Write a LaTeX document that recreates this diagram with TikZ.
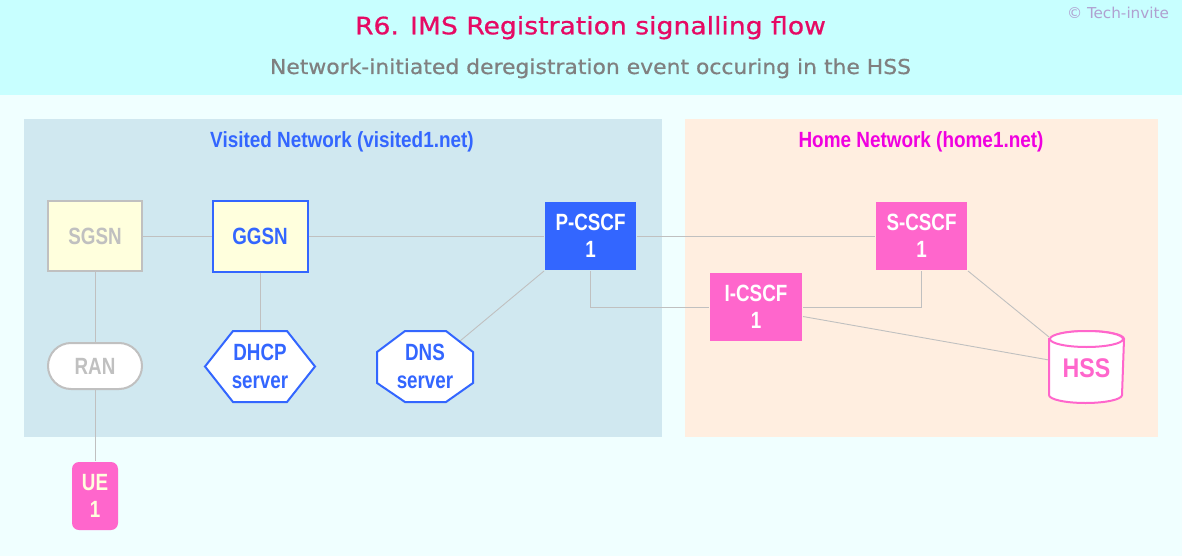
\documentclass[tikz,border=0pt]{standalone}
\usepackage{fontspec}
\usepackage{graphicx}
\setmainfont{Liberation Sans}[FakeStretch=0.8]
\newfontfamily\lblfont{Liberation Sans}[FakeStretch=0.86]
\newfontfamily\ttlfont{DejaVu Sans Condensed}[FakeBold=0.6]
\newfontfamily\cpyfont{DejaVu Sans Condensed}
\usetikzlibrary{calc}
\definecolor{bandc}{HTML}{C8FFFF}
\definecolor{pagec}{HTML}{F0FFFF}
\definecolor{visc}{HTML}{D0E8F0}
\definecolor{homec}{HTML}{FFEEE0}
\definecolor{titlec}{HTML}{E60A64}
\definecolor{subc}{HTML}{808080}
\definecolor{copyc}{HTML}{B0A0D0}
\definecolor{blueA}{HTML}{3366FF}
\definecolor{pinkA}{HTML}{FF66CC}
\definecolor{grayA}{HTML}{C0C0C0}
\definecolor{yelA}{HTML}{FFFFDD}
\definecolor{homet}{HTML}{F000E0}
\definecolor{creamA}{HTML}{FFFFDD}
\newcommand\ndfont{\fontsize{23.5}{27.5}\selectfont\bfseries}
\tikzset{
  box/.style={rectangle, inner sep=0pt, align=center, font=\ndfont, line width=2pt},
  graybox/.style={box, draw=grayA, fill=yelA, text=grayA, minimum width=94pt, minimum height=70pt},
  bluebox/.style={box, draw=blueA, fill=yelA, text=blueA, minimum width=95pt, minimum height=71pt},
  pcscfbox/.style={box, fill=blueA, text=white, minimum width=91pt, minimum height=68pt},
  pinkbox/.style={box, fill=pinkA, text=white, minimum width=92pt, minimum height=68pt},
  shapeholder/.style={box, draw=none},
  conn/.style={draw=grayA, line width=0.9pt},
  blueline/.style={draw=blueA, line width=2pt, fill=white},
  pinkline/.style={draw=pinkA, line width=2pt, fill=white},
  netlabel/.style={font=\lblfont\fontsize{22}{24}\selectfont\bfseries, inner sep=0pt}
}
\begin{document}
\begin{tikzpicture}[x=1pt,y=-1pt]
\useasboundingbox (0,0) rectangle (1182,556);
% backgrounds
\fill[pagec] (0,0) rectangle (1182,556);
\fill[bandc] (0,0) rectangle (1182,95);
\fill[visc] (24,119) rectangle (662,437);
\fill[homec] (685,119) rectangle (1158,437);
% titles
\node[inner sep=0pt, text=titlec, anchor=base] (title) at (590.5,34.3) {\ttlfont\fontsize{24}{26}\selectfont\resizebox{471pt}{\height}{R6. IMS Registration signalling flow}};
\node[inner sep=0pt, text=subc, anchor=base] (subtitle) at (590.5,74) {\ttlfont\fontsize{20.5}{22}\selectfont\resizebox{641pt}{\height}{Network-initiated deregistration event occuring in the HSS}};
\node[inner sep=0pt, text=copyc] (copy) at (1118,13) {\cpyfont\fontsize{15}{17}\selectfont\resizebox{102pt}{\height}{\textcopyright{} Tech-invite}};
\node[netlabel, text=blueA, anchor=base] (vislabel) at (342,147.7) {Visited Network (visited1.net)};
\node[netlabel, text=homet, anchor=base] (homelabel) at (921,147.7) {Home Network (home1.net)};
% nodes
\node[graybox] (SGSN) at (95,236) {SGSN};
\node[bluebox] (GGSN) at (260,236) {GGSN};
\node[pcscfbox] (PCSCF) at (590.5,236) {P-CSCF\\1};
\node[pinkbox, minimum width=91pt] (SCSCF) at (921.5,236) {S-CSCF\\1};
\node[pinkbox] (ICSCF) at (756,307) {I-CSCF\\1};
\node[box, draw=grayA, fill=white, text=grayA, minimum width=94pt, minimum height=46pt, rounded corners=23pt] (RAN) at (95,366) {RAN};
\node[box, fill=pinkA, text=creamA, minimum width=46pt, minimum height=68pt, rounded corners=7pt] (UE) at (95,496) {UE\\1};
% shape holders
\node[shapeholder, minimum width=110pt, minimum height=72pt] (DHCP) at (260,366.5) {};
\node[shapeholder, minimum width=96pt, minimum height=71pt] (DNS) at (425,366.5) {};
\node[shapeholder, minimum width=73pt, minimum height=70pt] (HSS) at (1086.5,367) {};
% connectors
\draw[conn] (SGSN) -- (GGSN);
\draw[conn] (GGSN) -- (PCSCF);
\draw[conn] (PCSCF) -- (SCSCF);
\draw[conn] (SGSN) -- (RAN);
\draw[conn] (RAN) -- (UE);
\draw[conn] (GGSN) -- (DHCP);
\draw[conn] (PCSCF.south west) -- ($(DNS.center)+(35,-25.5)$);
\draw[conn] (PCSCF.south) |- (ICSCF.west);
\draw[conn] (ICSCF.east) -| (SCSCF.south);
\draw[conn] ($(ICSCF.east)+(0,9.5)$) -- ($(HSS.west)+(0,-7)$);
\draw[conn] (SCSCF.south east) -- ($(HSS.north west)+(0,6)$);
% DHCP hexagon
\draw[blueline] ($(DHCP.center)+(-55,0)$) -- ($(DHCP.center)+(-27,-35.5)$) -- ($(DHCP.center)+(27,-35.5)$) -- ($(DHCP.center)+(55,0)$) -- ($(DHCP.center)+(27,35.5)$) -- ($(DHCP.center)+(-27,35.5)$) -- cycle;
\node[box, text=blueA] at (DHCP.center) {DHCP\\server};
% DNS octagon
\draw[blueline] ($(DNS.center)+(-20,-35.5)$) -- ($(DNS.center)+(21,-35.5)$) -- ($(DNS.center)+(48,-14.5)$) -- ($(DNS.center)+(48,16.5)$) -- ($(DNS.center)+(21,35.5)$) -- ($(DNS.center)+(-20,35.5)$) -- ($(DNS.center)+(-48,16.5)$) -- ($(DNS.center)+(-48,-14.5)$) -- cycle;
\node[box, text=blueA] at (DNS.center) {DNS\\server};
% HSS cylinder
\draw[pinkline] ($(HSS.north west)+(0,8)$) -- ($(HSS.south west)+(0,-8)$) arc[start angle=180, end angle=360, x radius=36.5pt, y radius=8pt] -- ($(HSS.north east)+(0,8)$) arc[start angle=0, end angle=180, x radius=36.5pt, y radius=8pt] -- cycle;
\draw[pinkline] ($(HSS.north)+(0,8)$) ellipse[x radius=36.5pt, y radius=8pt];
\node[inner sep=0pt, text=pinkA, font=\lblfont\fontsize{27}{30}\selectfont\bfseries] at ($(HSS.center)+(0,1)$) {HSS};
\end{tikzpicture}
\end{document}
